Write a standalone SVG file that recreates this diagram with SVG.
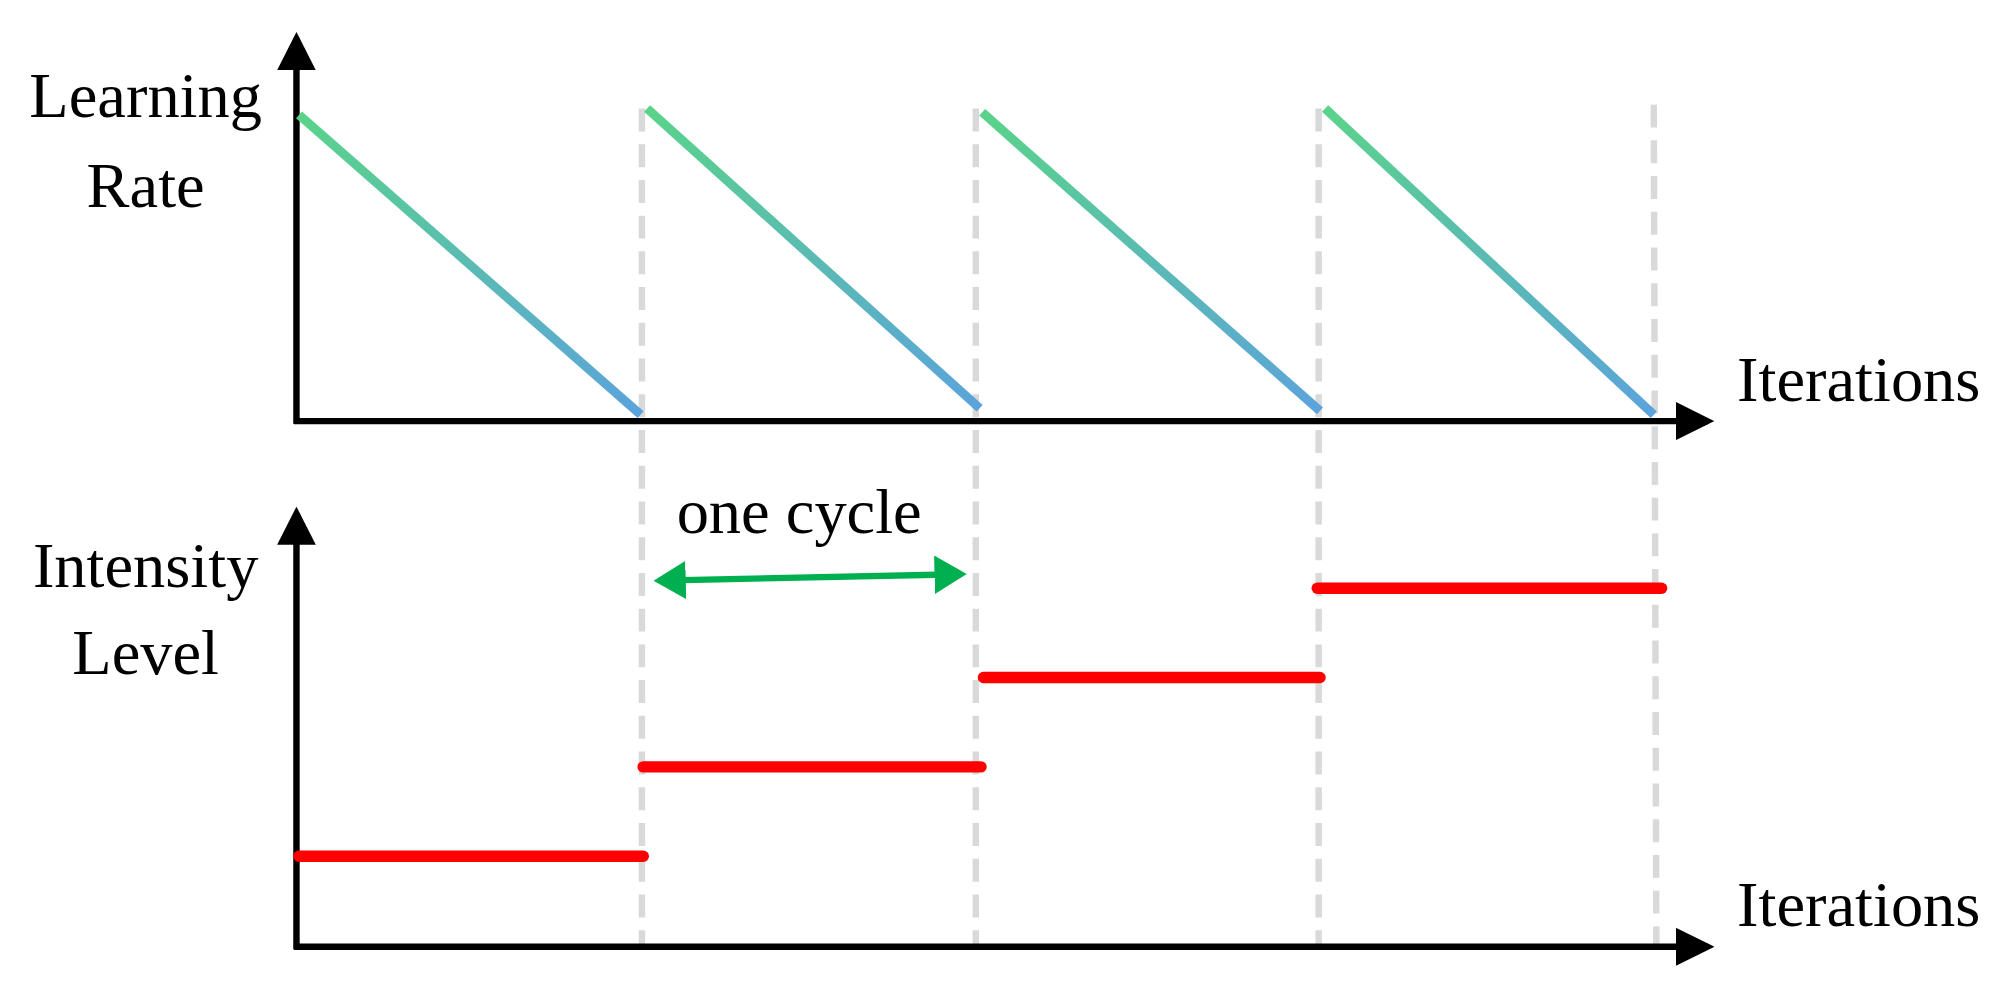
<svg xmlns="http://www.w3.org/2000/svg" width="2011" height="1008" viewBox="0 0 2011 1008">
<defs>
<linearGradient id="g" x1="0" y1="0" x2="0" y2="1"><stop offset="0" stop-color="#5ad38a"/><stop offset="1" stop-color="#5ba3dc"/></linearGradient>
<marker id="ah" markerWidth="6" markerHeight="6" refX="5" refY="3" orient="auto" markerUnits="strokeWidth"><path d="M0,0L6,3L0,6z" fill="#000"/></marker>
<marker id="gh" markerWidth="5" markerHeight="6" refX="4" refY="3" orient="auto-start-reverse" markerUnits="strokeWidth"><path d="M0,0L5,3L0,6z" fill="#00b050"/></marker>
<style>
text{font-family:"Liberation Serif","Times New Roman",serif;font-size:50px;fill:#000;text-anchor:middle}
.ax{stroke:#000;stroke-width:5;fill:none}
.saw{stroke:url(#g);stroke-width:7;fill:none}
.dash{stroke:#d9d9d9;stroke-width:5;stroke-dasharray:18,10;fill:none}
.red{stroke:#ff0000;stroke-width:9;stroke-linecap:round}
</style>
</defs>
<g transform="scale(1.289,1.276)">
<g id="guides">
<line class="dash" x1="498" y1="85" x2="498" y2="742"/>
<line class="dash" x1="757" y1="85" x2="757" y2="742"/>
<line class="dash" x1="1023" y1="85" x2="1023" y2="742"/>
<line class="dash" x1="1283" y1="82" x2="1285" y2="742"/>
</g>
<g id="axes">
<line class="ax" x1="230" y1="332" x2="230" y2="30" marker-end="url(#ah)"/>
<line class="ax" x1="228" y1="330" x2="1325" y2="330" marker-end="url(#ah)"/>
<line class="ax" x1="230" y1="744" x2="230" y2="402" marker-end="url(#ah)"/>
<line class="ax" x1="228" y1="742" x2="1325" y2="742" marker-end="url(#ah)"/>
</g>
<g id="lr">
<path class="saw" d="M232,90L497,325"/>
<path class="saw" d="M502,85L760,320"/>
<path class="saw" d="M762,88L1024,322"/>
<path class="saw" d="M1028,85L1283,325"/>
</g>
<g id="levels">
<line class="red" x1="232" y1="671" x2="499" y2="671"/>
<line class="red" x1="499" y1="601" x2="761" y2="601"/>
<line class="red" x1="763" y1="531" x2="1024" y2="531"/>
<line class="red" x1="1022" y1="461" x2="1289" y2="461"/>
</g>
<g id="cycle">
<line x1="512" y1="455" x2="745" y2="450" stroke="#00b050" stroke-width="5" marker-start="url(#gh)" marker-end="url(#gh)"/>
<text x="620" y="418">one cycle</text>
</g>
<g id="labels">
<text x="113" y="92">Learning</text>
<text x="113" y="162">Rate</text>
<text x="113" y="460">Intensity</text>
<text x="113" y="528">Level</text>
<text x="1442" y="314">Iterations</text>
<text x="1442" y="726">Iterations</text>
</g>
</g>
</svg>
